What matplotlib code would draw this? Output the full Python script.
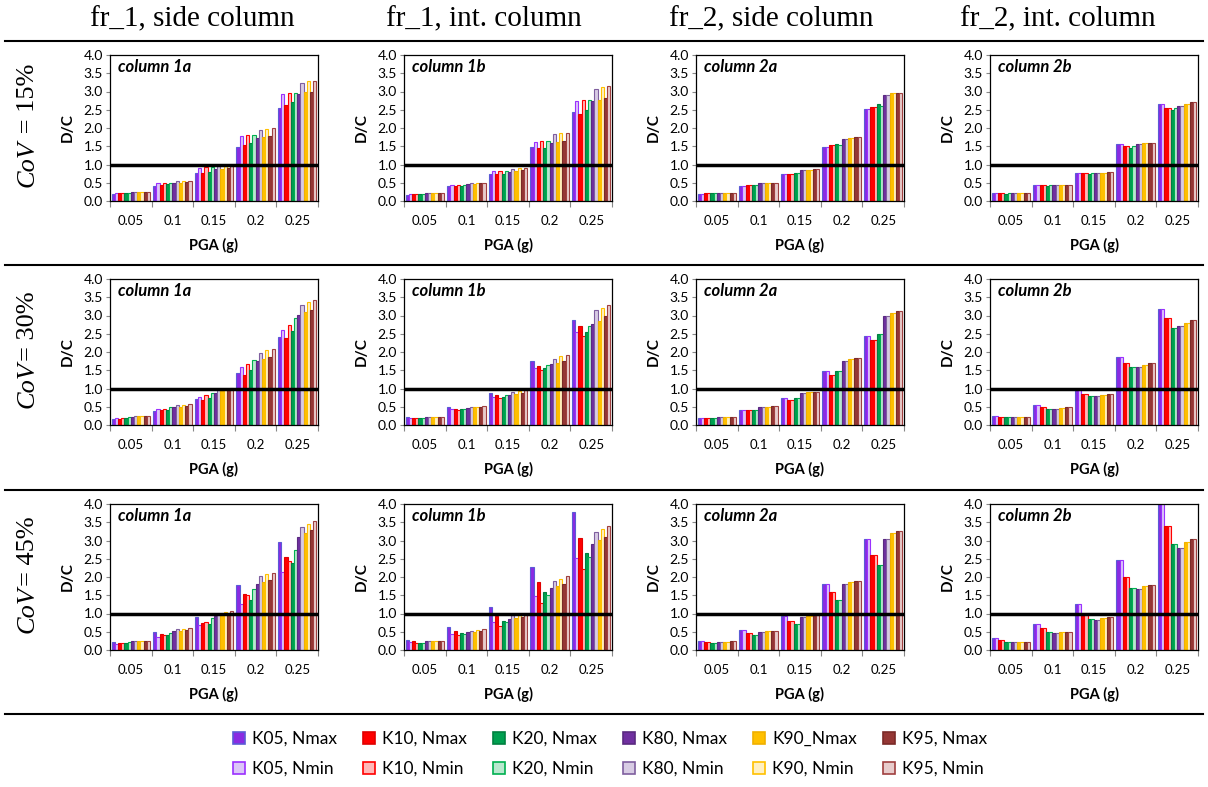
import matplotlib
matplotlib.use("Agg")
import matplotlib.pyplot as plt
from matplotlib.lines import Line2D
from matplotlib.patches import Patch
import numpy as np

pga_labels = ["0.05", "0.1", "0.15", "0.2", "0.25"]
series = ["K05, Nmax", "K05, Nmin", "K10, Nmax", "K10, Nmin", "K20, Nmax", "K20, Nmin",
          "K80, Nmax", "K80, Nmin", "K90_Nmax", "K90, Nmin", "K95, Nmax", "K95, Nmin"]
col_titles = ["fr_1, side column", "fr_1, int. column", "fr_2, side column", "fr_2, int. column"]
panel_names = ["column 1a", "column 1b", "column 2a", "column 2b"]
cov_labels = [" = 15%", "= 30%", "= 45%"]

# one row per PGA level, 12 values in series order
cov15_1a = [[0.19, 0.21, 0.21, 0.22, 0.22, 0.22, 0.24, 0.24, 0.24, 0.24, 0.24, 0.24],
            [0.42, 0.50, 0.45, 0.50, 0.46, 0.50, 0.50, 0.55, 0.50, 0.55, 0.52, 0.55],
            [0.77, 0.90, 0.77, 0.92, 0.80, 0.92, 0.87, 0.97, 0.88, 0.97, 0.90, 1.00],
            [1.47, 1.77, 1.53, 1.82, 1.60, 1.82, 1.72, 1.95, 1.75, 1.97, 1.78, 2.00],
            [2.55, 2.92, 2.62, 2.97, 2.70, 2.97, 2.92, 3.23, 2.98, 3.28, 3.00, 3.30]]
cov15_1b = [[0.17, 0.19, 0.19, 0.20, 0.19, 0.20, 0.21, 0.22, 0.21, 0.22, 0.21, 0.22],
            [0.42, 0.45, 0.42, 0.45, 0.42, 0.45, 0.46, 0.50, 0.47, 0.50, 0.48, 0.50],
            [0.75, 0.82, 0.73, 0.82, 0.73, 0.82, 0.80, 0.89, 0.83, 0.91, 0.84, 0.91],
            [1.49, 1.62, 1.45, 1.64, 1.45, 1.64, 1.60, 1.83, 1.62, 1.85, 1.65, 1.85],
            [2.45, 2.75, 2.38, 2.78, 2.48, 2.78, 2.73, 3.07, 2.78, 3.12, 2.82, 3.15]]
cov15_2a = [[0.19, 0.19, 0.21, 0.21, 0.21, 0.21, 0.21, 0.21, 0.23, 0.23, 0.23, 0.23],
            [0.42, 0.42, 0.44, 0.44, 0.45, 0.45, 0.50, 0.50, 0.50, 0.50, 0.50, 0.50],
            [0.75, 0.75, 0.75, 0.75, 0.77, 0.76, 0.85, 0.85, 0.85, 0.85, 0.87, 0.87],
            [1.47, 1.47, 1.53, 1.53, 1.56, 1.54, 1.70, 1.70, 1.73, 1.73, 1.76, 1.76],
            [2.53, 2.53, 2.58, 2.58, 2.65, 2.60, 2.90, 2.90, 2.95, 2.95, 2.97, 2.97]]
cov15_2b = [[0.21, 0.21, 0.21, 0.21, 0.19, 0.21, 0.21, 0.21, 0.21, 0.21, 0.21, 0.21],
            [0.44, 0.44, 0.44, 0.44, 0.42, 0.44, 0.44, 0.44, 0.44, 0.44, 0.44, 0.44],
            [0.77, 0.77, 0.77, 0.77, 0.73, 0.77, 0.77, 0.77, 0.77, 0.77, 0.79, 0.79],
            [1.56, 1.56, 1.50, 1.50, 1.45, 1.50, 1.56, 1.56, 1.58, 1.58, 1.60, 1.60],
            [2.65, 2.65, 2.56, 2.56, 2.50, 2.56, 2.60, 2.60, 2.65, 2.65, 2.70, 2.70]]

cov30_1a = [[0.17, 0.19, 0.17, 0.19, 0.20, 0.21, 0.22, 0.24, 0.24, 0.24, 0.24, 0.24],
            [0.38, 0.43, 0.40, 0.45, 0.42, 0.48, 0.50, 0.55, 0.50, 0.55, 0.53, 0.58],
            [0.70, 0.78, 0.68, 0.83, 0.75, 0.88, 0.87, 0.98, 0.92, 1.00, 0.95, 1.02],
            [1.43, 1.60, 1.37, 1.68, 1.50, 1.78, 1.75, 1.98, 1.80, 2.05, 1.87, 2.07],
            [2.40, 2.60, 2.38, 2.75, 2.57, 2.92, 3.02, 3.30, 3.10, 3.38, 3.15, 3.43]]
cov30_1b = [[0.22, 0.20, 0.20, 0.19, 0.19, 0.20, 0.21, 0.22, 0.22, 0.22, 0.22, 0.23],
            [0.48, 0.43, 0.45, 0.42, 0.43, 0.45, 0.47, 0.50, 0.48, 0.50, 0.50, 0.52],
            [0.88, 0.78, 0.82, 0.75, 0.77, 0.82, 0.83, 0.90, 0.85, 0.93, 0.88, 0.95],
            [1.75, 1.55, 1.62, 1.50, 1.55, 1.65, 1.68, 1.82, 1.70, 1.88, 1.75, 1.92],
            [2.88, 2.55, 2.72, 2.45, 2.55, 2.70, 2.78, 3.15, 2.85, 3.20, 2.98, 3.28]]
cov30_2a = [[0.18, 0.18, 0.18, 0.18, 0.18, 0.18, 0.21, 0.21, 0.23, 0.23, 0.23, 0.23],
            [0.42, 0.42, 0.40, 0.40, 0.42, 0.42, 0.50, 0.50, 0.50, 0.50, 0.53, 0.53],
            [0.73, 0.73, 0.68, 0.68, 0.73, 0.73, 0.88, 0.88, 0.90, 0.90, 0.90, 0.90],
            [1.47, 1.47, 1.37, 1.37, 1.47, 1.47, 1.75, 1.75, 1.80, 1.80, 1.83, 1.83],
            [2.45, 2.45, 2.32, 2.32, 2.50, 2.50, 3.00, 3.00, 3.07, 3.07, 3.12, 3.12]]
cov30_2b = [[0.26, 0.26, 0.23, 0.23, 0.21, 0.21, 0.21, 0.21, 0.21, 0.21, 0.21, 0.21],
            [0.55, 0.55, 0.49, 0.49, 0.44, 0.44, 0.44, 0.44, 0.46, 0.46, 0.49, 0.49],
            [0.97, 0.97, 0.85, 0.85, 0.80, 0.80, 0.80, 0.80, 0.82, 0.82, 0.85, 0.85],
            [1.85, 1.85, 1.70, 1.70, 1.58, 1.58, 1.60, 1.60, 1.65, 1.65, 1.70, 1.70],
            [3.17, 3.17, 2.92, 2.92, 2.65, 2.65, 2.70, 2.70, 2.80, 2.80, 2.88, 2.88]]

cov45_1a = [[0.22, 0.17, 0.19, 0.19, 0.19, 0.21, 0.24, 0.26, 0.24, 0.26, 0.26, 0.26],
            [0.48, 0.35, 0.43, 0.42, 0.40, 0.47, 0.52, 0.57, 0.52, 0.57, 0.55, 0.60],
            [0.90, 0.68, 0.75, 0.77, 0.72, 0.87, 0.92, 1.00, 0.97, 1.03, 1.00, 1.07],
            [1.78, 1.27, 1.53, 1.50, 1.37, 1.68, 1.80, 2.02, 1.87, 2.08, 1.92, 2.12],
            [2.97, 2.15, 2.55, 2.45, 2.38, 2.75, 3.10, 3.38, 3.20, 3.45, 3.30, 3.53]]
cov45_1b = [[0.27, 0.22, 0.24, 0.19, 0.19, 0.19, 0.24, 0.24, 0.24, 0.24, 0.24, 0.26],
            [0.62, 0.45, 0.52, 0.40, 0.46, 0.43, 0.50, 0.53, 0.50, 0.55, 0.53, 0.57],
            [1.17, 0.76, 0.92, 0.65, 0.80, 0.77, 0.85, 0.97, 0.88, 1.00, 0.90, 1.00],
            [2.28, 1.47, 1.87, 1.30, 1.60, 1.52, 1.70, 1.90, 1.75, 1.95, 1.82, 2.02],
            [3.77, 2.53, 3.08, 2.23, 2.65, 2.55, 2.90, 3.22, 3.02, 3.32, 3.10, 3.40]]
cov45_2a = [[0.26, 0.26, 0.22, 0.22, 0.19, 0.19, 0.22, 0.22, 0.23, 0.23, 0.24, 0.24],
            [0.55, 0.55, 0.46, 0.46, 0.40, 0.40, 0.50, 0.50, 0.52, 0.52, 0.53, 0.53],
            [0.93, 0.93, 0.80, 0.80, 0.70, 0.70, 0.90, 0.90, 0.93, 0.93, 0.95, 0.95],
            [1.82, 1.82, 1.58, 1.58, 1.37, 1.37, 1.80, 1.80, 1.85, 1.85, 1.88, 1.88],
            [3.05, 3.05, 2.60, 2.60, 2.33, 2.33, 3.05, 3.05, 3.20, 3.20, 3.27, 3.27]]
cov45_2b = [[0.33, 0.33, 0.27, 0.27, 0.23, 0.23, 0.22, 0.22, 0.22, 0.22, 0.22, 0.22],
            [0.72, 0.72, 0.60, 0.60, 0.50, 0.50, 0.47, 0.47, 0.48, 0.48, 0.50, 0.50],
            [1.25, 1.25, 1.00, 1.00, 0.85, 0.85, 0.82, 0.82, 0.87, 0.87, 0.90, 0.90],
            [2.47, 2.47, 2.00, 2.00, 1.70, 1.70, 1.68, 1.68, 1.75, 1.75, 1.78, 1.78],
            [4.10, 4.10, 3.40, 3.40, 2.90, 2.90, 2.80, 2.80, 2.95, 2.95, 3.05, 3.05]]

panels = [[cov15_1a, cov15_1b, cov15_2a, cov15_2b],
          [cov30_1a, cov30_1b, cov30_2a, cov30_2b],
          [cov45_1a, cov45_1b, cov45_2a, cov45_2b]]

# (fill, edge) per series
styles = [("#8A2BE2", "#5B5BD6"), ("#DCC6F8", "#9B30FF"),
          ("#FF0000", "#E00000"), ("#FFB8B8", "#FF0000"),
          ("#00A050", "#008040"), ("#B8E8CE", "#00B050"),
          ("#7030A0", "#5A2A80"), ("#D8CCE4", "#7F5F9F"),
          ("#FFC000", "#F0B000"), ("#FFF0C4", "#FFC000"),
          ("#953735", "#7A2A28"), ("#E8CCCC", "#A04040")]

W, H = 1208, 787
col_left = [110, 404, 696, 990]
row_top = [55, 279, 504]
ax_w, ax_h = 208, 146

plt.rcParams["font.family"] = ["Lato", "DejaVu Sans"]

fig = plt.figure(figsize=(W / 100, H / 100), dpi=100)

n = len(series)
bw = 0.92 / n
x = np.arange(len(pga_labels))

for r in range(3):
    for c in range(4):
        data = np.array(panels[r][c])
        ax = fig.add_axes([col_left[c] / W, 1 - (row_top[r] + ax_h) / H, ax_w / W, ax_h / H])
        for k in range(n):
            fill, edge = styles[k]
            ax.bar(x - 0.46 + bw * (k + 0.5), data[:, k], width=bw, color=fill,
                   edgecolor=edge, linewidth=0.8, zorder=2)
        ax.axhline(1.0, color="black", lw=2.5, zorder=3)
        ax.set_xlim(-0.5, 4.5)
        ax.set_ylim(0, 4.0)
        ax.set_yticks(np.arange(0, 4.01, 0.5))
        ax.set_yticklabels([f"{v:.1f}" for v in np.arange(0, 4.01, 0.5)], fontsize=10)
        ax.set_xticks(np.arange(-0.5, 4.6, 1.0))
        ax.set_xticklabels([])
        ax.set_xticks(x, minor=True)
        ax.set_xticklabels(pga_labels, minor=True, fontsize=9.5)
        ax.tick_params(axis="x", which="major", length=4, color="#888888")
        ax.tick_params(axis="x", which="minor", length=0, pad=10)
        ax.tick_params(axis="y", length=3, color="#888888", pad=2)
        for s in ax.spines.values():
            s.set_linewidth(0.9)
        ax.set_xlabel("PGA (g)", fontsize=10.5, fontweight="bold", labelpad=8)
        ax.set_ylabel("D/C", fontsize=11, fontweight="bold", labelpad=6)
        ax.text(0.04, 0.92, panel_names[c], transform=ax.transAxes, fontsize=12,
                fontweight="bold", style="italic", va="center", ha="left")

header_x = [192, 484, 771, 1058]
for c in range(4):
    fig.text(header_x[c] / W, 1 - 19 / H, col_titles[c], ha="center", va="center",
             fontsize=21, family="Liberation Serif")

row_y = [124, 348, 573]
for r in range(3):
    y = 1 - row_y[r] / H
    t = fig.text(28 / W, y, "CoV" + cov_labels[r], rotation=90, ha="center", va="center",
                 fontsize=19, family="Liberation Serif", alpha=0)
    # draw the italic word and the plain rest separately, stacked upward
    fig.canvas.draw()
    bb = t.get_window_extent()
    t.remove()
    t1 = fig.text(28 / W, bb.y0 / H, "CoV", rotation=90, ha="center", va="bottom",
                  fontsize=19, family="Liberation Serif", style="italic")
    bb1 = t1.get_window_extent(fig.canvas.get_renderer())
    fig.text(28 / W, bb1.y1 / H, cov_labels[r], rotation=90, ha="center", va="bottom",
             fontsize=19, family="Liberation Serif")

for yl in [41, 265, 490, 714]:
    fig.add_artist(Line2D([5 / W, 1203 / W], [1 - yl / H, 1 - yl / H], color="black", lw=1.5))

handles = [Patch(facecolor=f, edgecolor=e, linewidth=1.2) for f, e in styles]
fig.legend(handles, series, ncol=6, loc="center", bbox_to_anchor=(0.505, 1 - 754 / H),
           frameon=False, fontsize=12.5, handlelength=0.7, handleheight=0.7,
           handletextpad=0.4, columnspacing=1.5, labelspacing=0.8)

fig.savefig("out.png", dpi=100)
